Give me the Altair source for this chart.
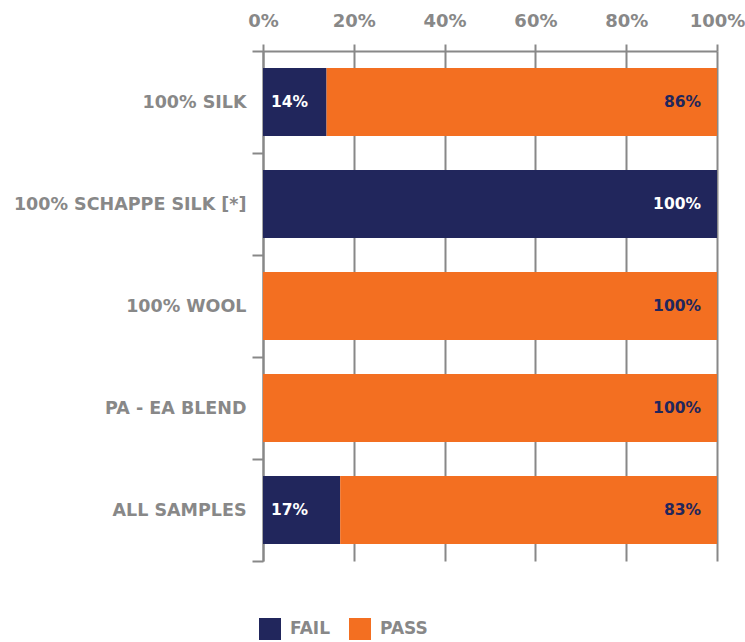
import altair as alt
import pandas as pd

categories = ["100% SILK", "100% SCHAPPE SILK [*]", "100% WOOL", "PA - EA BLEND", "ALL SAMPLES"]
fail = [14, 100, 0, 0, 17]
pass_ = [86, 0, 100, 100, 83]
status = ["FAIL", "PASS"]
x_ticks = [0, 20, 40, 60, 80, 100]

NAVY = "#21265c"
ORANGE = "#f36f21"
GRAY = "#888888"
FONT = "DejaVu Sans"

rows = []
for i, c in enumerate(categories):
    start = 0
    for s, v in zip(status, [fail[i], pass_[i]]):
        if v > 0:
            rows.append({"cat": c, "status": s, "value": v, "start": start, "end": start + v,
                         "label": f"{v}%"})
        start += v
df = pd.DataFrame(rows)

base = alt.Chart(df)

y_enc = alt.Y("cat:N", sort=categories, title=None,
              scale=alt.Scale(paddingInner=0, paddingOuter=0),
              axis=alt.Axis(domainColor=GRAY, domainWidth=2, tickColor=GRAY, tickWidth=2,
                            tickSize=11, tickBand="extent", labelPadding=6, labelLimit=400,
                            labelColor=GRAY, labelFont=FONT, labelFontSize=17.5,
                            labelFontWeight="bold", grid=False))

bars = base.mark_bar(height=alt.RelativeBandSize(0.667)).encode(
    x=alt.X("start:Q", title=None, scale=alt.Scale(domain=[0, 100]),
            axis=alt.Axis(orient="top", values=x_ticks, labelExpr="datum.value + '%'",
                          labelFlush=False, labelBound=False,
                          domainColor=GRAY, domainWidth=2, tickColor=GRAY, tickWidth=2,
                          tickSize=7, labelPadding=14, labelColor=GRAY, labelFont=FONT,
                          labelFontSize=18, labelFontWeight="bold",
                          grid=True, gridColor=GRAY, gridWidth=2, gridOpacity=1)),
    x2="end:Q",
    y=y_enc,
    color=alt.Color("status:N", scale=alt.Scale(domain=status, range=[NAVY, ORANGE]),
                    legend=alt.Legend(title=None, orient="none", legendX=-4, legendY=567,
                                      direction="horizontal", symbolType="square",
                                      symbolSize=484, symbolStrokeWidth=0, symbolOpacity=1,
                                      labelFont=FONT, labelFontSize=17, labelFontWeight="bold",
                                      labelColor=GRAY, labelOffset=9, columnPadding=19)),
)

left_labels = base.transform_filter("datum.end < 100").mark_text(
    align="left", dx=8, font=FONT, fontSize=15.5, fontWeight="bold", color="white"
).encode(x="start:Q", y=alt.Y("cat:N", sort=categories), text="label:N")

right_labels = base.transform_filter("datum.end >= 100").mark_text(
    align="right", dx=-16, font=FONT, fontSize=15.5, fontWeight="bold"
).encode(x="end:Q", y=alt.Y("cat:N", sort=categories), text="label:N",
         color=alt.Color("status:N", scale=alt.Scale(domain=status, range=["white", NAVY]),
                         legend=None))

chart = alt.layer(bars, left_labels, right_labels).resolve_scale(color="independent").properties(
    width=454, height=510,
    autosize=alt.AutoSizeParams(type="none"),
    padding={"left": 263, "top": 51, "right": 28, "bottom": 81},
).configure_view(stroke=None)

chart.save("out.html", embed_options={"renderer": "svg", "actions": False})
